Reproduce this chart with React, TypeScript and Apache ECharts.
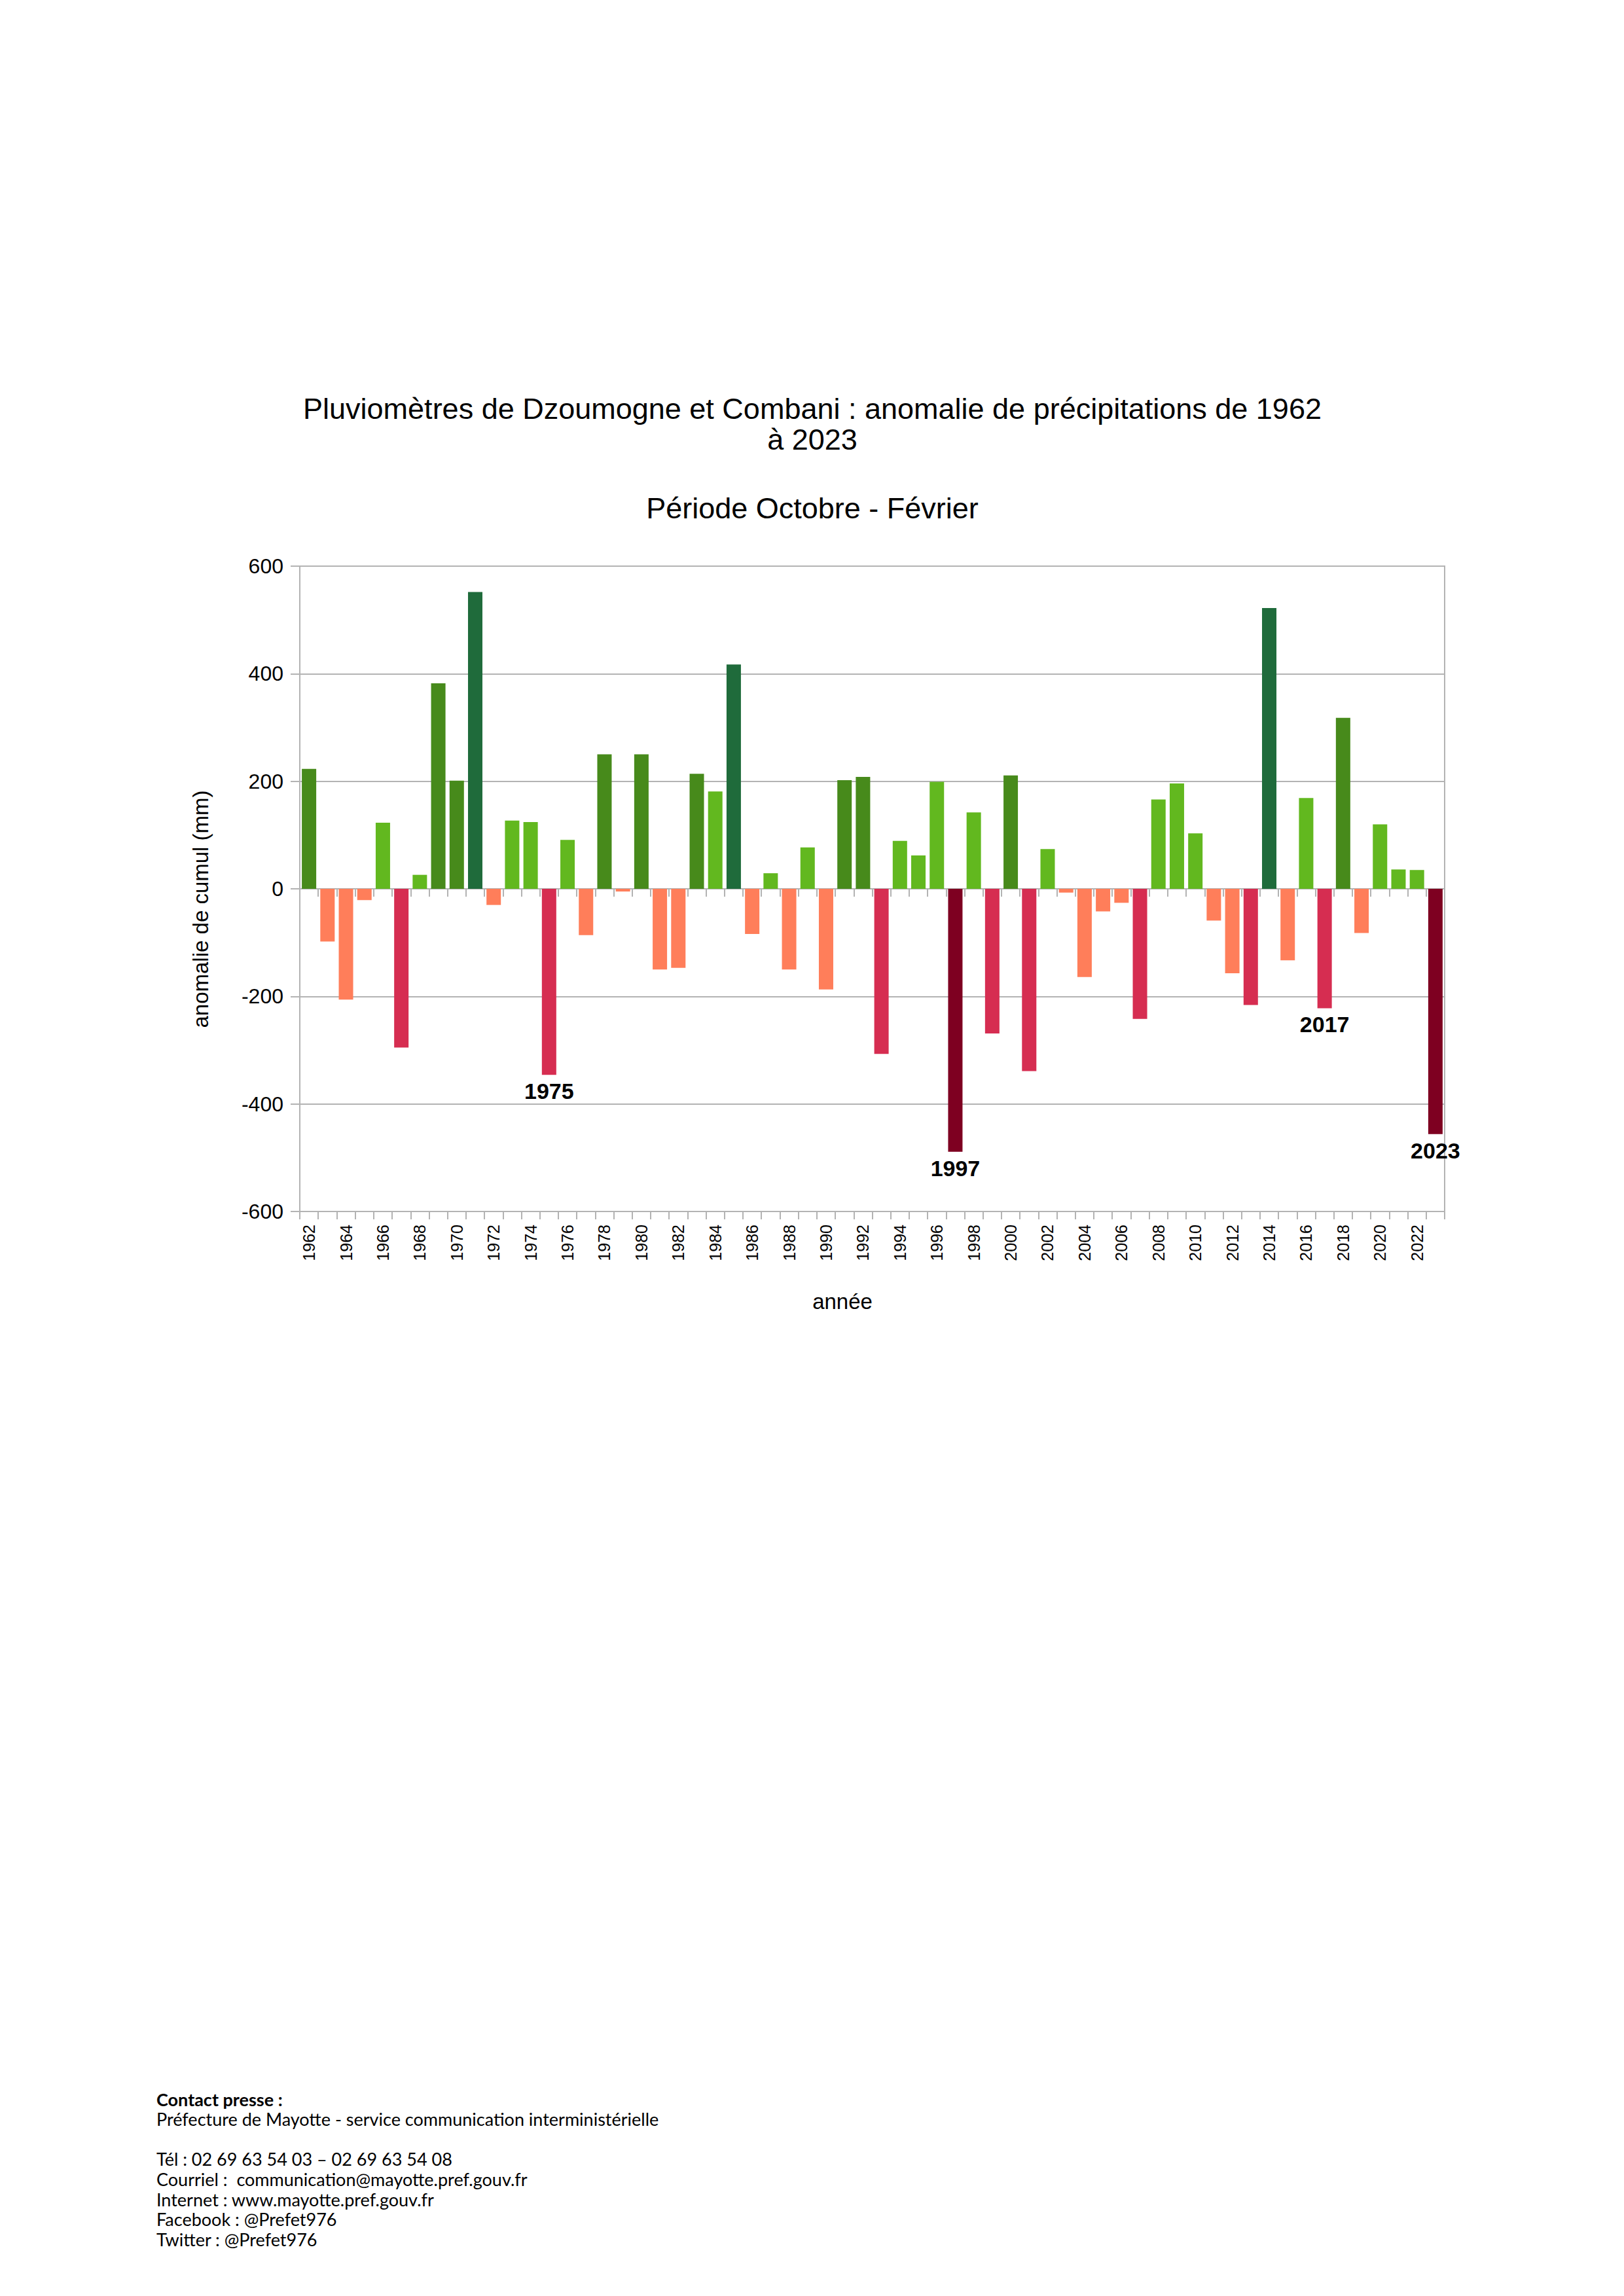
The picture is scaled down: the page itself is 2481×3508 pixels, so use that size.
import React, { useEffect, useRef } from "react";
import * as echarts from "echarts";

const years = [
  "1962", "1963", "1964", "1965", "1966", "1967", "1968", "1969", "1970", "1971",
  "1972", "1973", "1974", "1975", "1976", "1977", "1978", "1979", "1980", "1981",
  "1982", "1983", "1984", "1985", "1986", "1987", "1988", "1989", "1990", "1991",
  "1992", "1993", "1994", "1995", "1996", "1997", "1998", "1999", "2000", "2001",
  "2002", "2003", "2004", "2005", "2006", "2007", "2008", "2009", "2010", "2011",
  "2012", "2013", "2014", "2015", "2016", "2017", "2018", "2019", "2020", "2021",
  "2022", "2023",
];

const anomalies = [
  223, -98, -206, -21, 123, -295, 26, 382, 201, 552,
  -30, 127, 124, -346, 91, -86, 250, -5, 250, -150,
  -147, 214, 181, 417, -84, 29, -150, 77, -187, 202,
  208, -307, 89, 62, 199, -489, 142, -269, 211, -339,
  74, -7, -164, -42, -26, -242, 166, 196, 103, -59,
  -157, -216, 522, -133, 169, -222, 318, -82, 120, 36,
  35, -456,
];

const highlightedYears = ["1975", "1997", "2017", "2023"];

const yTicks = [-600, -400, -200, 0, 200, 400, 600];

const titleLines = [
  "Pluviomètres de Dzoumogne et Combani : anomalie de précipitations de 1962",
  "à 2023",
];
const subtitle = "Période Octobre - Février";
const yAxisName = "anomalie de cumul (mm)";
const xAxisName = "année";

const footerLines = [
  { text: "Contact presse :", bold: true },
  { text: "Préfecture de Mayotte - service communication interministérielle", bold: false },
  { text: "", bold: false },
  { text: "Tél : 02 69 63 54 03 – 02 69 63 54 08", bold: false },
  { text: "Courriel :  communication@mayotte.pref.gouv.fr", bold: false },
  { text: "Internet : www.mayotte.pref.gouv.fr", bold: false },
  { text: "Facebook : @Prefet976", bold: false },
  { text: "Twitter : @Prefet976", bold: false },
];

const colorFor = (v: number) => {
  if (v >= 400) return "#1f6b3b";
  if (v >= 200) return "#478a1b";
  if (v >= 0) return "#62b81f";
  if (v >= -210) return "#ff7e5a";
  if (v >= -400) return "#d62d51";
  return "#7e0021";
};

const FONT = "Liberation Sans, Arial, sans-serif";
const GRID_COLOR = "#b3b3b3";

export default function App() {
  const ref = useRef<HTMLDivElement>(null);

  useEffect(() => {
    if (!ref.current) return;
    const chart = echarts.init(ref.current, undefined, { renderer: "svg" });

    const data = anomalies.map((v, i) => {
      const show = highlightedYears.includes(years[i]);
      return {
        value: v,
        itemStyle: { color: colorFor(v) },
        label: show
          ? {
              show: true,
              position: "bottom",
              distance: 8,
              formatter: "{b}",
              fontFamily: FONT,
              fontSize: 34,
              fontWeight: "bold",
              color: "#000",
            }
          : { show: false },
      };
    });

    const graphics: any[] = [];
    titleLines.forEach((t, i) => {
      graphics.push({
        type: "text",
        x: 1241,
        y: 624 + i * 47,
        style: {
          text: t,
          font: `45px ${FONT}`,
          fill: "#000",
          align: "center",
          verticalAlign: "middle",
        },
      });
    });
    graphics.push({
      type: "text",
      x: 1241,
      y: 776,
      style: {
        text: subtitle,
        font: `45px ${FONT}`,
        fill: "#000",
        align: "center",
        verticalAlign: "middle",
      },
    });
    graphics.push({
      type: "text",
      x: 306,
      y: 1389,
      rotation: Math.PI / 2,
      style: {
        text: yAxisName,
        font: `33px ${FONT}`,
        fill: "#000",
        align: "center",
        verticalAlign: "middle",
      },
    });
    graphics.push({
      type: "text",
      x: 1287,
      y: 1988,
      style: {
        text: xAxisName,
        font: `33px ${FONT}`,
        fill: "#000",
        align: "center",
        verticalAlign: "middle",
      },
    });
    footerLines.forEach((l, i) => {
      if (!l.text) return;
      graphics.push({
        type: "text",
        x: 239,
        y: 3207 + i * 30.6,
        style: {
          text: l.text,
          font: `${l.bold ? "bold " : ""}27px Lato, sans-serif`,
          fill: "#000",
          align: "left",
          verticalAlign: "middle",
        },
      });
    });

    chart.setOption({
      animation: false,
      backgroundColor: "#ffffff",
      textStyle: { fontFamily: FONT },
      grid: {
        left: 458,
        top: 865,
        width: 1749,
        height: 986,
        show: true,
        borderColor: GRID_COLOR,
        borderWidth: 2,
        backgroundColor: "transparent",
      },
      xAxis: [
        {
          type: "category",
          data: years,
          position: "bottom",
          boundaryGap: true,
          axisLine: { onZero: false, lineStyle: { color: GRID_COLOR, width: 2 } },
          axisTick: {
            show: true,
            interval: 0,
            length: 12,
            lineStyle: { color: GRID_COLOR, width: 2 },
          },
          axisLabel: {
            interval: 1,
            rotate: 90,
            fontSize: 25,
            margin: 20,
            color: "#000",
            fontFamily: FONT,
          },
          splitLine: { show: false },
        },
        {
          type: "category",
          data: years,
          position: "top",
          boundaryGap: true,
          axisLine: {
            show: true,
            onZero: true,
            lineStyle: { color: GRID_COLOR, width: 2 },
          },
          axisTick: {
            show: true,
            inside: true,
            interval: 0,
            length: 12,
            lineStyle: { color: GRID_COLOR, width: 2 },
          },
          axisLabel: { show: false },
          splitLine: { show: false },
        },
      ],
      yAxis: {
        type: "value",
        min: yTicks[0],
        max: yTicks[yTicks.length - 1],
        interval: yTicks[1] - yTicks[0],
        axisLine: { show: true, lineStyle: { color: GRID_COLOR, width: 2 } },
        axisTick: { show: true, length: 14, lineStyle: { color: GRID_COLOR, width: 2 } },
        axisLabel: { fontSize: 32, margin: 25, color: "#000", fontFamily: FONT },
        splitLine: { show: true, lineStyle: { color: GRID_COLOR, width: 2 } },
      },
      series: [
        {
          type: "bar",
          xAxisIndex: 0,
          yAxisIndex: 0,
          barWidth: 22,
          data,
        },
      ],
      graphic: graphics,
    });

    return () => chart.dispose();
  }, []);

  return (
    <div
      ref={ref}
      style={{ position: "absolute", left: 0, top: 0, width: 2481, height: 3508, background: "#fff" }}
    />
  );
}
